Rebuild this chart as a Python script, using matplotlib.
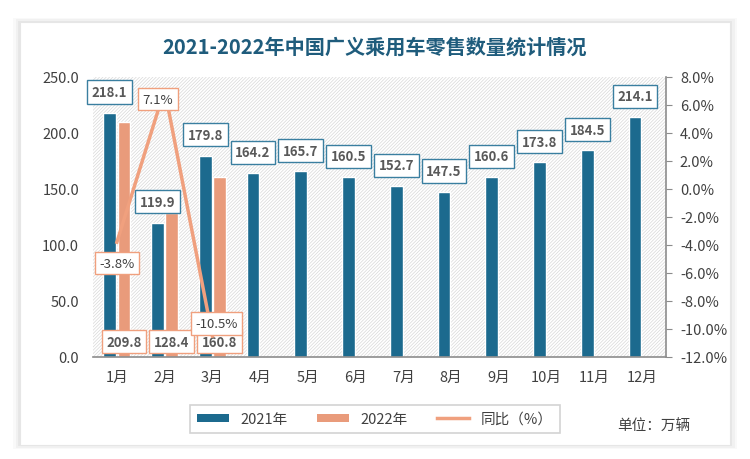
import matplotlib
matplotlib.use("Agg")
import matplotlib.pyplot as plt
import numpy as np
from matplotlib.patches import Rectangle, FancyBboxPatch
from matplotlib.lines import Line2D
from matplotlib.patches import Patch

plt.rcParams['font.family'] = ['Noto Sans CJK SC', 'DejaVu Sans']
plt.rcParams['hatch.linewidth'] = 0.5
plt.rcParams['hatch.color'] = '#D8D8D8'

months = ['1月', '2月', '3月', '4月', '5月', '6月', '7月', '8月', '9月', '10月', '11月', '12月']
sales_2021 = [218.1, 119.9, 179.8, 164.2, 165.7, 160.5, 152.7, 147.5, 160.6, 173.8, 184.5, 214.1]
sales_2022 = [209.8, 128.4, 160.8]
yoy = [-3.8, 7.1, -10.5]

blue = '#1C6A8E'
orange = '#E99B7B'
line_c = '#F0A07E'
text_c = '#404040'
label_c = '#595959'

fig = plt.figure(figsize=(7.5, 4.6), dpi=100)
fig.patch.set_facecolor('white')

# card with soft shadow
for i, a in enumerate([0.025, 0.03, 0.04]):
    d = (3 - i) * 0.003
    fig.patches.append(FancyBboxPatch((20/750 - d, 14/460 - d), 710/750 + 2*d, 423/460 + 2*d,
                                      boxstyle='square,pad=0', transform=fig.transFigure,
                                      facecolor='black', alpha=a, edgecolor='none', zorder=0))
fig.patches.append(FancyBboxPatch((20/750, 14/460), 710/750, 423/460, boxstyle='square,pad=0',
                                  transform=fig.transFigure, facecolor='white',
                                  edgecolor='#E6E6E6', lw=0.8, zorder=1))

ax = fig.add_axes([93/750, 102/460, 573/750, 280/460])
ax.set_zorder(2)
ax.patch.set_alpha(0)
ax.add_patch(Rectangle((0, 0), 1, 1, transform=ax.transAxes, facecolor='white',
                       edgecolor='#D8D8D8', hatch='/' * 10, lw=0, zorder=0))

x = np.arange(len(months))
w = 0.27
b1 = ax.bar(x - 0.15, sales_2021, w, color=blue, edgecolor='white', lw=1, zorder=2)
x2 = x[:len(sales_2022)]
b2 = ax.bar(x2 + 0.15, sales_2022, w, color=orange, edgecolor='white', lw=1, zorder=2)

ax.set_xlim(-0.5, len(months) - 0.5)
ax.set_ylim(0, 250)
ax.set_yticks(np.arange(0, 251, 50))
ax.set_yticklabels(['%.1f' % v for v in np.arange(0, 251, 50)])
ax.set_xticks(x)
ax.set_xticklabels(months)
ax.tick_params(axis='y', length=0, pad=10, labelsize=10.5, labelcolor=text_c)
ax.tick_params(axis='x', length=0, pad=9, labelsize=10.5, labelcolor=text_c)
for s in ['left', 'top', 'right']:
    ax.spines[s].set_visible(False)
ax.spines['bottom'].set_color('#8C8C8C')
ax.spines['bottom'].set_linewidth(1.2)

ax2 = ax.twinx()
ax2.set_ylim(-12, 8)
ax2.set_yticks(np.arange(-12, 8.1, 2))
ax2.set_yticklabels(['%.1f%%' % v for v in np.arange(-12, 8.1, 2)])
ax2.tick_params(axis='y', length=4, color='#8C8C8C', pad=6, labelsize=10.5, labelcolor=text_c)
for s in ['left', 'top', 'bottom']:
    ax2.spines[s].set_visible(False)
ax2.spines['right'].set_color('#8C8C8C')
ax2.spines['right'].set_linewidth(1.2)
ax2.plot(x[:len(yoy)], yoy, color=line_c, lw=2.5, zorder=3)

# labels
for xi, v in zip(x, sales_2021):
    ax.annotate('%.1f' % v, (xi - 0.15, v), xytext=(0, 15), textcoords='offset points',
                ha='center', va='center', fontsize=9.5, fontweight='bold', color=label_c, zorder=5,
                bbox=dict(boxstyle='square,pad=0.35', facecolor='white', edgecolor='#3A7FA0', lw=1))
for xi, v in zip(x2, sales_2022):
    ax.annotate('%.1f' % v, (xi + 0.15, 0), xytext=(0, 11), textcoords='offset points',
                ha='center', va='center', fontsize=9.5, fontweight='bold', color=label_c, zorder=5,
                bbox=dict(boxstyle='square,pad=0.35', facecolor='white', edgecolor=line_c, lw=1))
offs = [(0, -15), (-5, -7), (3, 9)]
for xi, v, o in zip(x, yoy, offs):
    ax2.annotate('%.1f%%' % v, (xi, v), xytext=o, textcoords='offset points',
                 ha='center', va='center', fontsize=9.5, color=text_c, zorder=6,
                 bbox=dict(boxstyle='square,pad=0.35', facecolor='white', edgecolor=line_c, lw=1))

fig.text(0.5, 413/460, '2021-2022年中国广义乘用车零售数量统计情况', ha='center', va='center',
         fontsize=14.5, fontweight='bold', color='#1F5C7C', zorder=3)

handles = [Patch(facecolor=blue, edgecolor='none'), Patch(facecolor=orange, edgecolor='none'),
           Line2D([0], [0], color=line_c, lw=2.5)]
leg = fig.legend(handles, ['2021年', '2022年', '同比（%）'], loc='center',
                 bbox_to_anchor=(375/750, 40/460), ncol=3, frameon=True, fancybox=False,
                 fontsize=10.5, handlelength=2.2, handleheight=0.5, columnspacing=2.0,
                 borderpad=0.5, edgecolor='#C8C8C8')
leg.get_frame().set_linewidth(1.2)
leg.set_zorder(4)
for t in leg.get_texts():
    t.set_color(text_c)

fig.text(654/750, 33/460, '单位：万辆', ha='center', va='center', fontsize=10.5, color=text_c, zorder=3)

fig.savefig('out.png', dpi=100)
